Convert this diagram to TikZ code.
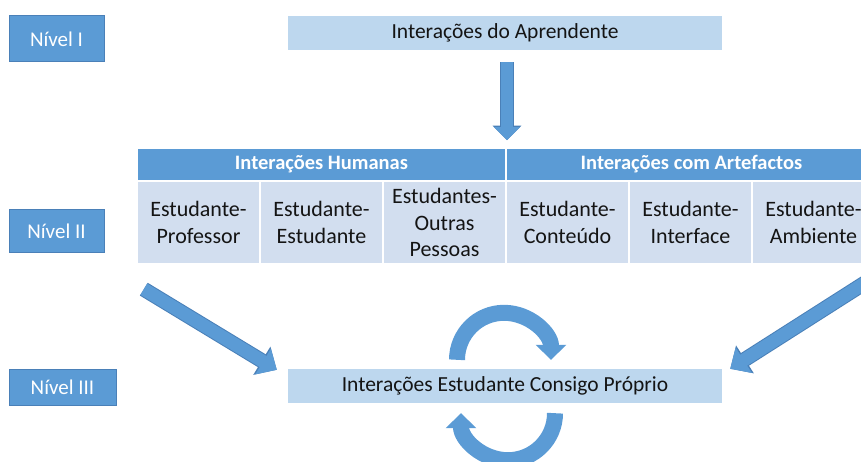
\documentclass[tikz,border=0pt]{standalone}
\usepackage{fontspec}
\setmainfont{Carlito}
\usetikzlibrary{arrows.meta,calc}
\definecolor{dkblue}{HTML}{5B9BD5}
\definecolor{dkedge}{HTML}{4A80B8}
\definecolor{ltblue}{HTML}{BDD7EE}
\definecolor{cellblue}{HTML}{D2DEEF}
\definecolor{txt}{HTML}{141414}
\begin{document}
\begin{tikzpicture}[x=1pt,y=-1pt,
  level/.style={draw=dkedge, line width=1pt, fill=dkblue, text=white,
    font=\fontsize{21}{25}\selectfont, inner sep=0pt, anchor=center},
  mainbox/.style={fill=ltblue, text=txt, font=\fontsize{21.5}{25}\selectfont,
    minimum width=434pt, minimum height=34pt, inner sep=0pt, anchor=center},
  hdr/.style={fill=dkblue, text=white, font=\bfseries\fontsize{20.5}{24}\selectfont,
    minimum height=31pt, inner sep=0pt, anchor=center},
  cell/.style={fill=cellblue, text=txt, font=\fontsize{22}{26.5}\selectfont,
    minimum width=121pt, minimum height=81pt, inner sep=0pt, align=center, anchor=center},
  blockarrow/.style={draw=dkblue, line width=13pt, -{Triangle[width=29pt,length=16pt]},
    preaction={draw=dkedge, line width=15pt, -{Triangle[width=32pt,length=17.5pt]}}},
  downarrow/.style={draw=dkblue, line width=12pt, -{Triangle[width=25pt,length=13pt]},
    preaction={draw=dkedge, line width=14pt, -{Triangle[width=28pt,length=14.5pt]}}},
  looparrow/.style={draw=dkblue, line width=16pt, -{Triangle[width=30pt,length=15pt]}}
]
\useasboundingbox (0,0) rectangle (861,462);
\clip (0,0) rectangle (861,462);

% level labels
\node[level, minimum width=95pt, minimum height=46pt] (n1) at (56.5,39) {Nível I};
\node[level, minimum width=95pt, minimum height=42pt] (n2) at (56.5,231) {Nível II};
\node[level, minimum width=107pt, minimum height=36pt] (n3) at (62.5,387) {Nível III};

% main boxes
\node[mainbox] (top) at (505,33) {Interações do Aprendente};
\node[mainbox] (bottom) at (505,386) {Interações Estudante Consigo Próprio};

% table header
\node[hdr, minimum width=367pt] (hdr1) at (321.5,164.5) {Interações Humanas};
\node[hdr, minimum width=369pt] (hdr2) at (691.5,164.5) {Interações com Artefactos};

% table cells
\node[cell] (c1) at (198.5,222.5) {Estudante-\\Professor};
\node[cell] (c2) at (321.5,222.5) {Estudante-\\Estudante};
\node[cell] (c3) at (444.5,222.5) {Estudantes-\\Outras\\Pessoas};
\node[cell] (c4) at (567.5,222.5) {Estudante-\\Conteúdo};
\node[cell] (c5) at (690.5,222.5) {Estudante-\\Interface};
\node[cell] (c6) at (813.5,222.5) {Estudante-\\Ambiente};

% arrows
\coordinate (dA) at ($(top.south)+(2,12)$);
\coordinate (dB) at ($(top.south)+(2,90)$);
\draw[downarrow] (dA) -- (dB);

\coordinate (lA) at ($(c1.south west)+(6,26)$);
\coordinate (lB) at ($(bottom.north west)+(-11,1)$);
\draw[blockarrow] (lA) -- (lB);

\coordinate (rA) at ($(c6.south east)+(6,10)$);
\coordinate (rB) at ($(bottom.north east)+(8,0)$);
\draw[blockarrow] (rA) -- (rB);

% loop arrows
\coordinate (tA) at ($(bottom.north)+(-48,-9)$);
\draw[looparrow] (tA) arc[start angle=180, end angle=360, radius=47];
\coordinate (bA) at ($(bottom.south)+(50,10)$);
\draw[looparrow] (bA) arc[start angle=0, end angle=180, radius=47];
\end{tikzpicture}
\end{document}
